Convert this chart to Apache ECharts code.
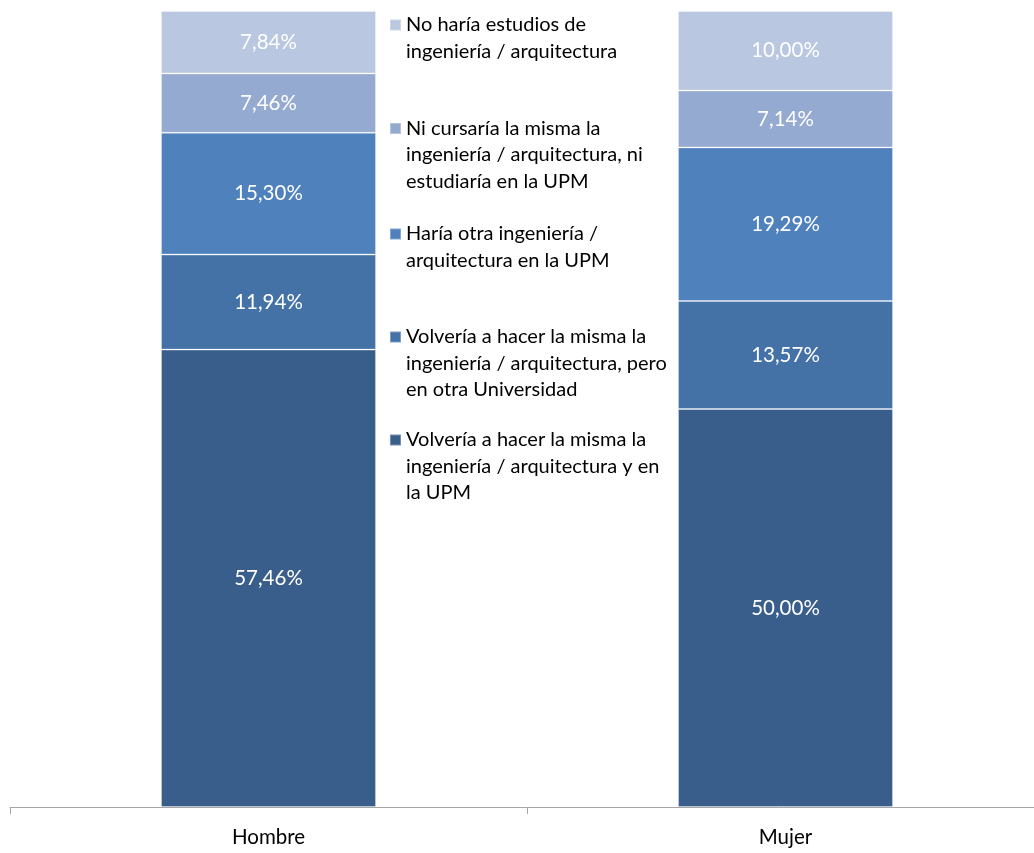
<!DOCTYPE html>
<html>
<head>
<meta charset="utf-8">
<script src="https://cdn.jsdelivr.net/npm/echarts@6/dist/echarts.min.js"></script>
<style>
  html, body { margin: 0; padding: 0; background: #fff; }
  #chart { width: 1034px; height: 853px; }
</style>
</head>
<body>
<div id="chart"></div>
<script>
// Categories on the x axis
const categories = ['Hombre', 'Mujer'];

// Answer options, bottom segment first
const seriesNames = [
  'Volvería a hacer la misma la\ningeniería / arquitectura y en\nla UPM',
  'Volvería a hacer la misma la\ningeniería / arquitectura, pero\nen otra Universidad',
  'Haría otra ingeniería /\narquitectura en la UPM',
  'Ni cursaría la misma la\ningeniería / arquitectura, ni\nestudiaría en la UPM',
  'No haría estudios de\ningeniería / arquitectura'
];

// Percentages per option: [Hombre, Mujer]
const mismaUPM = [57.46, 50.00];
const mismaOtraUniv = [11.94, 13.57];
const otraUPM = [15.30, 19.29];
const niMismaNiUPM = [7.46, 7.14];
const noEstudios = [7.84, 10.00];

const seriesValues = [mismaUPM, mismaOtraUniv, otraUPM, niMismaNiUPM, noEstudios];
const colors = ['#3A5E8C', '#4472A7', '#4F81BD', '#95AAD1', '#B9C7E1'];

const FONT = 'Lato';
const LINE_H = 26.5;

// Legend entries, top to bottom, with the vertical centre of each marker
const legendOrder = [4, 3, 2, 1, 0];
const legendCenters = [25, 128.5, 234, 337, 440];

const legends = legendOrder.map((si, k) => {
  const name = seriesNames[si];
  const lines = name.split('\n').length;
  // The legend text is centred on its marker; leading blank lines put the
  // marker level with the first line instead.
  const blank = '\n'.repeat(lines - 1);
  const total = (2 * lines - 1) * LINE_H;
  return {
    data: [{ name: name, icon: 'rect' }],
    orient: 'vertical',
    left: 389,
    top: legendCenters[k] - total / 2,
    padding: 0,
    itemWidth: 11,
    itemHeight: 11,
    selectedMode: false,
    formatter: n => blank + n,
    textStyle: {
      fontFamily: FONT,
      fontSize: 20,
      color: '#000',
      lineHeight: LINE_H
    }
  };
});

const series = seriesValues.map((vals, i) => ({
  name: seriesNames[i],
  type: 'bar',
  stack: 'total',
  data: vals,
  barWidth: 215,
  itemStyle: {
    color: colors[i],
    borderColor: 'rgba(255,255,255,0.3)',
    borderWidth: 1
  },
  label: {
    show: true,
    position: 'inside',
    color: '#fff',
    fontFamily: FONT,
    fontSize: 20.5,
    formatter: p => p.value.toFixed(2).replace('.', ',') + '%'
  }
}));

const chart = echarts.init(document.getElementById('chart'));
chart.setOption({
  animation: false,
  backgroundColor: '#fff',
  grid: { left: 10, top: 11, width: 1034, height: 796, outerBoundsMode: 'none', containLabel: false },
  xAxis: {
    type: 'category',
    data: categories,
    boundaryGap: true,
    axisLine: { lineStyle: { color: '#A6A6A6', width: 1 } },
    axisTick: { show: true, length: 7, lineStyle: { color: '#A6A6A6' } },
    axisLabel: { color: '#000', fontFamily: FONT, fontSize: 20.5, margin: 20 }
  },
  yAxis: {
    type: 'value',
    min: 0,
    max: 100,
    show: false,
    splitLine: { show: false }
  },
  legend: legends,
  series: series
});
</script>
</body>
</html>
